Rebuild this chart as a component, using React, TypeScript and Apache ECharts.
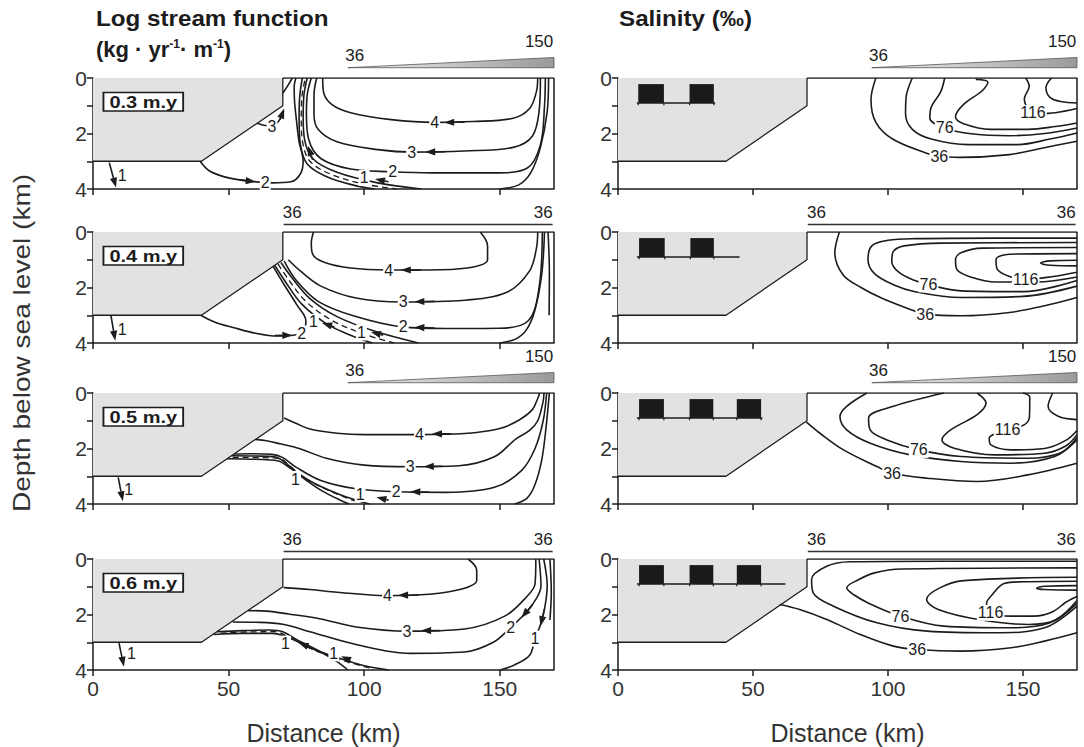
import React, { useEffect, useRef } from "react";
import * as echarts from "echarts";

type Pt = [number, number];
type Lbl = [number, number, string];
type Arr = [number, number, number, number];

const FONT = '"Liberation Sans", Arial, Helvetica, sans-serif';
const INK = "#1c1c1c";

// ---------- axes / layout data ----------
const xTicks = [0, 50, 100, 150];
const depthTicks = [0, 1, 2, 3, 4];
const depthTickLabels = [0, 2, 4];
const ages = ["0.3 m.y", "0.4 m.y", "0.5 m.y", "0.6 m.y"];
const surfaceSalinity: [number, number][] = [[36, 150], [36, 36], [36, 150], [36, 36]];
const shelf: Pt[] = [[0, 0], [70, 0], [70, 1], [40, 3], [0, 3]];
const shelfEdge: Pt[] = [[70, 0], [70, 1], [40, 3], [0, 3]];
const frameEdge: Pt[] = [[70, 0], [170, 0], [170, 4]];

const GRID_LEFT = [93, 618];
const GRID_W = [461, 459];
const GRID_TOP = [78, 232, 393, 559];
const GRID_H = 111;

// ---------- log stream function (left column) ----------
const psi03: Pt[][] = [
  [[84.7, 0], [85, 0.5], [88, 0.95], [95, 1.25], [110, 1.5], [126, 1.6], [140, 1.57], [155, 1.45], [161, 1.1], [163.5, 0.5], [164, 0]],
  [[82.5, 0], [81.5, 0.6], [81.5, 1.3], [83, 1.85], [90, 2.3], [105, 2.58], [118, 2.67], [137, 2.63], [155, 2.5], [162, 2.1], [164.5, 1.2], [165, 0]],
  [[80.5, 0], [79, 0.6], [78.7, 1.3], [79.5, 2.2], [84, 2.9], [95, 3.28], [110, 3.38], [125, 3.42], [148, 3.42], [160, 3.25], [165, 2.4], [166.5, 1], [166.8, 0]],
  [[79, 0], [77.8, 0.6], [77.5, 1.4], [78, 2.2], [81, 2.9], [90, 3.4], [105, 3.78], [121, 4]],
  [[77.2, 0], [76.2, 0.7], [76, 1.5], [76.5, 2.4], [79, 3.1], [86, 3.55], [96, 3.86], [104, 4]],
  [[39.5, 3.0], [43, 3.35], [50, 3.6], [58, 3.72], [66, 3.78], [73, 3.74], [76.5, 3.45], [77.5, 3.0], [76, 2.3], [75, 1.5], [74.3, 0.8], [74.2, 0.3], [74.8, 0]],
  [[150, 4], [157, 3.85], [161.5, 3.4], [165, 2.5], [167.5, 1.2], [168, 0]],
  [[70, 0.55], [72, 0.25], [73.5, 0]],
  [[60.5, 1.63], [63, 1.7], [66, 1.73], [68.5, 1.55], [70.3, 1.2]],
];
const psi03Dashed: Pt[][] = [
  [[78.1, 0.1], [77, 0.7], [76.8, 1.5], [77.3, 2.3], [80, 3.0], [88, 3.48], [100, 3.82], [112, 4]],
];
const psi03Labels: Lbl[] = [
  [126, 1.6, "4"], [117.5, 2.67, "3"], [110.5, 3.38, "2"], [100, 3.6, "1"], [63.5, 3.76, "2"], [66, 1.73, "3"], [10.8, 3.52, "1"],
];
const psi03Arrows: Arr[] = [
  [137, 1.59, 129.5, 1.6], [130, 2.66, 122.5, 2.67], [109, 3.74, 104, 3.64], [81, 2.95, 79.3, 2.45], [54, 3.67, 60, 3.74], [69, 1.5, 70.5, 1.1], [6, 3.05, 8.5, 3.95],
];

const psi04: Pt[][] = [
  [[81.3, 0], [80.5, 0.4], [81, 0.8], [85, 1.08], [95, 1.3], [109, 1.37], [124, 1.37], [138, 1.3], [145.5, 1.0], [145.5, 0.5], [142.8, 0]],
  [[72, 1.0], [77, 1.45], [84, 1.95], [97, 2.38], [114, 2.52], [137, 2.46], [153, 2.15], [161, 1.4], [163.5, 0.6], [164, 0]],
  [[70.5, 1.05], [75, 1.75], [83, 2.5], [96, 3.02], [114, 3.42], [130, 3.48], [150, 3.47], [160.5, 3.2], [164.5, 2.0], [165.7, 0]],
  [[69.3, 1.1], [73, 1.6], [80, 2.4], [90, 3.05], [104, 3.58], [120, 4]],
  [[67, 1.2], [71, 1.8], [77, 2.6], [86, 3.3], [95, 3.72], [103, 4]],
  [[39.7, 3.0], [45, 3.25], [52, 3.45], [60, 3.65], [68, 3.75], [74, 3.72], [78, 3.5], [78.5, 3.2], [75, 2.6], [70.5, 1.9], [66.3, 1.22]],
  [[150, 4], [156, 3.85], [160, 3.5], [163, 2.8], [165.5, 1.5], [166.5, 0]],
  [[167.8, 0], [168.3, 1.5], [168.2, 3]],
];
const psi04Dashed: Pt[][] = [
  [[68.2, 1.15], [72, 1.7], [78.5, 2.5], [88, 3.18], [100, 3.68], [111, 4]],
];
const psi04Labels: Lbl[] = [
  [109, 1.37, "4"], [114.4, 2.51, "3"], [114.4, 3.42, "2"], [81.3, 3.24, "1"], [99, 3.62, "1"], [77, 3.66, "2"], [10.8, 3.52, "1"],
];
const psi04Arrows: Arr[] = [
  [121, 1.37, 113.5, 1.37], [126, 2.5, 118.5, 2.51], [126, 3.46, 118.5, 3.43], [89, 3.42, 84.5, 3.28], [107, 3.72, 102.5, 3.6], [67, 3.73, 73.5, 3.72], [6.6, 3.0, 8.2, 3.92],
];

const psi05: Pt[][] = [
  [[70.5, 0.9], [75, 1.1], [80, 1.3], [90, 1.45], [100, 1.5], [120, 1.5], [137, 1.46], [150, 1.28], [157, 0.98], [162, 0.6], [164, 0.2], [164.7, 0]],
  [[60, 1.67], [64, 1.72], [69, 1.83], [76, 2.0], [86, 2.35], [100, 2.6], [117, 2.66], [135, 2.62], [148, 2.3], [156, 1.65], [161, 1.35], [164, 1.0], [166, 0.3], [166.3, 0]],
  [[52, 2.2], [58, 2.19], [66, 2.21], [70, 2.33], [75, 2.68], [84, 3.15], [97, 3.45], [112, 3.56], [130, 3.58], [148, 3.4], [158, 2.8], [163, 2.0], [166, 1.0], [167.3, 0]],
  [[51.1, 2.26], [60, 2.27], [67, 2.3], [71, 2.52], [76, 2.95], [84, 3.5], [92, 3.9], [94.5, 4]],
  [[49.5, 2.37], [60, 2.39], [68, 2.44], [73, 2.72], [80, 3.17], [90, 3.62], [100, 3.95], [102, 4]],
  [[155.4, 4], [160, 3.8], [163, 3.3], [165.5, 2.4], [167, 1.3], [168.3, 0]],
];
const psi05Dashed: Pt[][] = [
  [[51.5, 2.32], [62, 2.33], [69, 2.37], [72.5, 2.62], [78, 3.06], [88, 3.56], [98, 3.94]],
];
const psi05Labels: Lbl[] = [
  [120.4, 1.49, "4"], [117, 2.65, "3"], [111.8, 3.55, "2"], [74.7, 3.1, "1"], [98.5, 3.64, "1"], [13.2, 3.46, "1"],
];
const psi05Arrows: Arr[] = [
  [132, 1.47, 125, 1.47], [129, 2.64, 122, 2.65], [124, 3.57, 117, 3.56], [109, 3.86, 104.5, 3.76], [9.3, 3.04, 11, 3.9],
];

const psi06: Pt[][] = [
  [[70.3, 1.03], [80, 1.1], [90, 1.2], [100, 1.28], [108.6, 1.32], [124, 1.27], [136, 1.08], [141.5, 0.78], [141.5, 0.4], [138.3, 0]],
  [[57.2, 1.86], [64, 1.88], [72, 1.98], [84, 2.16], [97, 2.45], [116, 2.6], [137, 2.52], [152, 2.05], [160, 1.35], [163, 0.9], [163.3, 0]],
  [[51.5, 2.27], [60, 2.28], [70, 2.35], [80, 2.62], [97, 3.08], [117, 3.4], [137, 3.35], [147.8, 2.99], [154, 2.47], [158, 2.1], [162, 1.65], [165.2, 0.97], [164.5, 0]],
  [[166.2, 0], [167.5, 0.97], [166.5, 1.8], [164.9, 2.4], [163, 2.87], [161, 3.47], [155.4, 3.82], [150.2, 4]],
  [[45.7, 2.62], [55, 2.58], [65, 2.56], [70, 2.62], [75, 2.9], [84, 3.35], [90, 3.7], [94, 4]],
  [[44.5, 2.72], [55, 2.68], [66, 2.68], [72, 2.82], [80, 3.2], [90, 3.55], [100, 3.85], [109, 4]],
  [[168.5, 0], [169, 1.2], [168.5, 2.2]],
];
const psi06Dashed: Pt[][] = [
  [[47, 2.67], [57, 2.63], [67, 2.62], [73, 2.86], [82, 3.3], [92, 3.65], [103, 3.95]],
];
const psi06Labels: Lbl[] = [
  [108.6, 1.32, "4"], [115.8, 2.6, "3"], [154, 2.47, "2"], [163, 2.87, "1"], [71, 3.05, "1"], [88.8, 3.4, "1"], [14.2, 3.4, "1"],
];
const psi06Arrows: Arr[] = [
  [120, 1.3, 112.5, 1.31], [128, 2.58, 121, 2.58], [162, 1.65, 158, 2.12], [166.5, 1.8, 165, 2.42], [80.5, 3.2, 75.8, 3.02], [95, 3.66, 91.5, 3.5], [9.6, 3.03, 11.4, 3.88],
];

// ---------- salinity (right column) ----------
const sal03: Pt[][] = [
  [[95.5, 0], [93.7, 0.78], [95.5, 1.6], [101.7, 2.2], [114, 2.7], [119, 2.82], [126.5, 2.86], [145, 2.76], [157.4, 2.52], [170, 2.28]],
  [[109, 0], [106.7, 0.7], [106.5, 1.3], [109, 1.85], [116, 2.2], [130, 2.4], [148, 2.4], [160, 2.2], [170, 1.98]],
  [[121, 0], [119.5, 0.5], [116, 1.05], [115.5, 1.45], [121, 1.8], [130, 2.0], [145, 2.08], [158, 2.0], [170, 1.8]],
  [[132.5, 0.05], [137, 0.15], [135, 0.45], [128, 0.95], [125, 1.4], [128, 1.65], [138, 1.85], [152, 1.85], [162, 1.75], [170, 1.62]],
  [[151, 0], [152.3, 0.3], [150.5, 0.75], [152, 1.1], [156, 1.28], [162, 1.25], [170, 1.1]],
  [[160.5, 0], [158.5, 0.35], [160, 0.7], [164, 0.85], [170, 0.9]],
];
const sal03Labels: Lbl[] = [[119, 2.82, "36"], [121, 1.8, "76"], [153.7, 1.26, "116"]];

const sal04: Pt[][] = [
  [[82, 0], [80.3, 0.75], [83.4, 1.55], [90, 2.0], [98, 2.4], [108, 2.78], [114, 2.96], [127, 3.02], [145, 2.9], [158, 2.66], [170, 2.36]],
  [[170, 0.22], [140, 0.22], [110, 0.24], [100, 0.3], [94, 0.5], [92.6, 1.0], [95, 1.5], [102, 1.9], [110, 2.15], [127, 2.36], [150, 2.32], [170, 1.95]],
  [[170, 0.38], [120, 0.4], [106, 0.5], [102, 0.7], [101.4, 1.05], [104, 1.45], [110, 1.75], [115, 1.9], [127, 2.12], [150, 2.15], [170, 1.75]],
  [[170, 0.56], [135, 0.58], [127, 0.75], [125, 1.0], [125.5, 1.35], [130, 1.6], [140, 1.8], [155, 1.8], [170, 1.62]],
  [[170, 0.78], [145, 0.8], [140, 1.0], [140.5, 1.35], [145, 1.6], [151, 1.7], [160, 1.62], [170, 1.45]],
  [[170, 1.02], [160, 1.04], [156.5, 1.12], [160, 1.2], [170, 1.22]],
];
const sal04Labels: Lbl[] = [[113.8, 2.96, "36"], [115, 1.89, "76"], [151, 1.71, "116"]];

const sal05: Pt[][] = [
  [[69.8, 1.05], [74.8, 1.45], [83.5, 2.05], [95.9, 2.65], [101.5, 2.89], [114.5, 3.07], [133, 3.19], [151.8, 2.95], [170, 2.53]],
  [[92.2, 0], [84.7, 0.48], [82.2, 0.84], [84.7, 1.33], [93.4, 1.81], [108.3, 2.23], [127, 2.47], [145.6, 2.53], [161.7, 2.29], [170, 1.69]],
  [[120.7, 0], [102, 0.48], [92.8, 0.9], [93.4, 1.33], [99.6, 1.69], [111.4, 2.05], [127, 2.29], [151.8, 2.35], [164, 2.15], [170, 1.6]],
  [[133, 0], [136.3, 0.36], [133, 0.78], [123.2, 1.33], [120, 1.69], [124.5, 1.99], [139.4, 2.23], [158, 2.17], [166, 1.9], [170, 1.5]],
  [[150, 0], [152.5, 0.15], [152.4, 0.84], [150.6, 1.14], [144.3, 1.33], [137.5, 1.63], [138.1, 1.87], [145.6, 2.05], [158, 2.0], [166, 1.7], [170, 1.35]],
  [[161, 0], [159.3, 0.48], [163, 0.84], [170, 0.96]],
];
const sal05Labels: Lbl[] = [[101.5, 2.89, "36"], [111.4, 2.05, "76"], [144.3, 1.33, "116"]];

const sal06: Pt[][] = [
  [[59.9, 1.64], [67.3, 1.82], [77.3, 2.18], [89.7, 2.72], [102, 3.14], [110.8, 3.26], [127, 3.32], [145.6, 3.2], [158, 2.96], [170, 2.66]],
  [[170, 0.08], [120, 0.08], [86, 0.1], [77.3, 0.26], [71.7, 0.74], [72.3, 1.22], [79.8, 1.7], [95.9, 2.3], [114.5, 2.6], [139.4, 2.66], [158, 2.48], [170, 1.7]],
  [[170, 0.32], [105, 0.36], [95, 0.5], [89, 0.75], [84.7, 1.04], [87.2, 1.28], [93, 1.6], [104.6, 2.06], [120.7, 2.42], [145.6, 2.48], [160, 2.3], [170, 1.6]],
  [[170, 0.66], [128, 0.78], [119, 1.05], [114.3, 1.46], [118.6, 1.82], [133.5, 2.18], [152, 2.36], [162, 2.2], [170, 1.5]],
  [[170, 0.8], [150, 0.82], [143, 0.88], [138.5, 1.3], [136.5, 1.6], [137.5, 1.95], [145.6, 2.06], [154, 2.06], [161, 1.9], [166, 1.55], [170, 1.35]],
  [[170, 0.96], [158, 0.98], [155, 1.05], [158, 1.1], [170, 1.12]],
];
const sal06Labels: Lbl[] = [[110.8, 3.26, "36"], [104.6, 2.06, "76"], [138, 1.94, "116"]];

// black basins on the shelf (km)
const basins: Pt[][] = [
  [[7.5, 17], [26.5, 35.5]],
  [[7.8, 17.3], [26.8, 35.5]],
  [[7.8, 17], [26.5, 35.3], [44, 53]],
  [[7.8, 17], [26.5, 35.3], [44, 53]],
];
const basinBaseEnd = [36, 45, 53.5, 62];
const basinTop = 0.22;
const basinBottom = 0.9;

const psiSets = [psi03, psi04, psi05, psi06];
const psiDashed = [psi03Dashed, psi04Dashed, psi05Dashed, psi06Dashed];
const psiLabels = [psi03Labels, psi04Labels, psi05Labels, psi06Labels];
const psiArrows = [psi03Arrows, psi04Arrows, psi05Arrows, psi06Arrows];
const salSets = [sal03, sal04, sal05, sal06];
const salLabels = [sal03Labels, sal04Labels, sal05Labels, sal06Labels];

function lineSeries(g: number, pts: Pt[], extra: any = {}) {
  return {
    type: "line",
    xAxisIndex: g,
    yAxisIndex: g,
    data: pts,
    smooth: extra.smooth ?? 0.35,
    symbol: "none",
    silent: true,
    animation: false,
    z: extra.z ?? 3,
    lineStyle: { color: INK, width: extra.width ?? 1.6, type: extra.type ?? "solid" },
  };
}

function textSeries(g: number, items: Lbl[], o: any) {
  return {
    type: "custom",
    xAxisIndex: g,
    yAxisIndex: g,
    clip: false,
    silent: true,
    z: o.z ?? 8,
    data: items.map((d) => [d[0], d[1]]),
    encode: { x: 0, y: 1 },
    renderItem: (params: any, api: any) => {
      const it = items[params.dataIndex];
      const p = api.coord([it[0], it[1]]);
      return {
        type: "text",
        x: p[0],
        y: p[1],
        scaleX: o.scaleX ?? 1,
        style: {
          text: it[2],
          fontSize: o.size,
          fontFamily: FONT,
          fontWeight: o.weight || "normal",
          fill: INK,
          textAlign: o.align || "center",
          textVerticalAlign: o.valign || "middle",
          align: o.align || "center",
          verticalAlign: o.valign || "middle",
          backgroundColor: o.bg,
          padding: o.pad,
          borderColor: o.border,
          borderWidth: o.borderWidth,
        },
      };
    },
  };
}

function arrowSeries(g: number, arrows: Arr[]) {
  return {
    type: "custom",
    xAxisIndex: g,
    yAxisIndex: g,
    clip: false,
    silent: true,
    z: 9,
    data: arrows.map((a) => [a[2], a[3], a[0], a[1]]),
    encode: { x: [0, 2], y: [1, 3] },
    renderItem: (params: any, api: any) => {
      const a = arrows[params.dataIndex];
      const tail = api.coord([a[0], a[1]]);
      const tip = api.coord([a[2], a[3]]);
      const dx = tip[0] - tail[0];
      const dy = tip[1] - tail[1];
      const len = Math.hypot(dx, dy) || 1;
      const ux = dx / len;
      const uy = dy / len;
      const L = 10;
      const W = 3.6;
      const bx = tip[0] - ux * L;
      const by = tip[1] - uy * L;
      return {
        type: "group",
        children: [
          { type: "line", shape: { x1: tail[0], y1: tail[1], x2: bx, y2: by }, style: { stroke: INK, lineWidth: 1.6 } },
          {
            type: "polygon",
            shape: { points: [[tip[0], tip[1]], [bx - uy * W, by + ux * W], [bx + uy * W, by - ux * W]] },
            style: { fill: INK },
          },
        ],
      };
    },
  };
}

function shelfSeries(g: number) {
  return {
    type: "custom",
    xAxisIndex: g,
    yAxisIndex: g,
    silent: true,
    z: 1,
    data: [[0, 0]],
    renderItem: (_p: any, api: any) => ({
      type: "polygon",
      shape: { points: shelf.map((s) => api.coord(s)) },
      style: { fill: "#e2e2e2" },
    }),
  };
}

function surfaceSeries(g: number, r: number) {
  const [s0, s1] = surfaceSalinity[r];
  const wedge = s1 !== s0;
  return {
    type: "custom",
    xAxisIndex: g,
    yAxisIndex: g,
    clip: false,
    silent: true,
    z: 2,
    data: [[170, -0.3]],
    renderItem: (_p: any, api: any) => {
      if (wedge) {
        const a = api.coord([94, -0.37]);
        const b = api.coord([170, -0.37]);
        const c = api.coord([170, -0.74]);
        return {
          type: "polygon",
          shape: { points: [a, b, c] },
          style: {
            fill: new echarts.graphic.LinearGradient(0, 0, 1, 0, [
              { offset: 0, color: "#f0f0f0" },
              { offset: 1, color: "#9a9a9a" },
            ]),
            stroke: "#555",
            lineWidth: 0.8,
          },
        };
      }
      const a = api.coord([70.3, -0.27]);
      const b = api.coord([169.5, -0.27]);
      return { type: "line", shape: { x1: a[0], y1: a[1], x2: b[0], y2: b[1] }, style: { stroke: "#333", lineWidth: 1.3 } };
    },
  };
}

function basinSeries(g: number, r: number) {
  const list = basins[r];
  return {
    type: "custom",
    xAxisIndex: g,
    yAxisIndex: g,
    silent: true,
    z: 4,
    data: list.map((b) => [b[0], b[1]]),
    encode: { x: [0, 1] },
    renderItem: (params: any, api: any) => {
      const b = list[params.dataIndex];
      const p0 = api.coord([b[0], basinTop]);
      const p1 = api.coord([b[1], basinBottom]);
      const t0 = api.coord([b[0], basinBottom + 0.08]);
      const t1 = api.coord([b[1], basinBottom + 0.08]);
      return {
        type: "group",
        children: [
          { type: "rect", shape: { x: p0[0], y: p0[1], width: p1[0] - p0[0], height: p1[1] - p0[1] }, style: { fill: "#1a1a1a" } },
          { type: "line", shape: { x1: p0[0], y1: p1[1], x2: t0[0], y2: t0[1] }, style: { stroke: INK, lineWidth: 1.2 } },
          { type: "line", shape: { x1: p1[0], y1: p1[1], x2: t1[0], y2: t1[1] }, style: { stroke: INK, lineWidth: 1.2 } },
        ],
      };
    },
  };
}

function buildOption() {
  const grid: any[] = [];
  const xAxis: any[] = [];
  const yAxis: any[] = [];
  const series: any[] = [];

  for (let r = 0; r < 4; r++) {
    for (let c = 0; c < 2; c++) {
      const g = r * 2 + c;
      grid.push({ left: GRID_LEFT[c], top: GRID_TOP[r], width: GRID_W[c], height: GRID_H, containLabel: false });
      xAxis.push({
        gridIndex: g,
        type: "value",
        min: 0,
        max: 170,
        interval: 50,
        position: "bottom",
        axisLine: { onZero: false, lineStyle: { color: INK, width: 1.5 } },
        axisTick: { length: 6, customValues: xTicks, lineStyle: { color: INK, width: 1.5 } },
        axisLabel: {
          show: r === 3,
          customValues: xTicks,
          fontSize: 21,
          fontFamily: FONT,
          color: "#333",
          margin: 8,
        },
        splitLine: { show: false },
        name: r === 3 ? "Distance (km)" : "",
        nameLocation: "middle",
        nameGap: 50,
        nameTextStyle: { fontSize: 25, fontFamily: FONT, color: "#333" },
      });
      yAxis.push({
        gridIndex: g,
        type: "value",
        min: 0,
        max: 4,
        interval: 1,
        inverse: true,
        axisLine: { show: true, onZero: false, lineStyle: { color: INK, width: 1.5 } },
        axisTick: { show: true, length: 6, customValues: depthTicks, lineStyle: { color: INK, width: 1.5 } },
        axisLabel: {
          customValues: depthTickLabels,
          fontSize: 21,
          fontFamily: FONT,
          color: "#333",
          margin: 6,
        },
        splitLine: { show: false },
      });

      series.push(shelfSeries(g));
      series.push(lineSeries(g, shelfEdge, { smooth: false, width: 1.3, z: 2 }));
      series.push(lineSeries(g, frameEdge, { smooth: false, width: 1.5, z: 2 }));
      series.push(surfaceSeries(g, r));
      const [s0, s1] = surfaceSalinity[r];
      const wedge = s0 !== s1;
      series.push(
        textSeries(
          g,
          wedge
            ? [[96.5, -0.82, String(s0)], [164.5, -1.3, String(s1)]]
            : [[73.5, -0.7, String(s0)], [166, -0.7, String(s1)]],
          { size: 17, z: 5 }
        )
      );

      if (c === 0) {
        psiSets[r].forEach((pts) => series.push(lineSeries(g, pts)));
        psiDashed[r].forEach((pts) => series.push(lineSeries(g, pts, { type: [6, 4], width: 1.3 })));
        series.push(textSeries(g, psiLabels[r], { size: 16, bg: "#fff", pad: [0, 1] }));
        series.push(arrowSeries(g, psiArrows[r]));
        series.push(
          textSeries(g, [[4.2, 0.55, ages[r]]], {
            size: 16,
            weight: "bold",
            align: "left",
            valign: "top",
            bg: "#fff",
            pad: [1, 4, 0, 4],
            border: INK,
            borderWidth: 1.5,
            scaleX: 1.25,
          })
        );
      } else {
        salSets[r].forEach((pts) => series.push(lineSeries(g, pts)));
        series.push(textSeries(g, salLabels[r], { size: 16, bg: "#fff", pad: [0, 1] }));
        series.push(basinSeries(g, r));
        series.push(lineSeries(g, [[7, basinBottom], [basinBaseEnd[r], basinBottom]], { smooth: false, width: 1.5, z: 4 }));
      }
    }
  }

  return {
    animation: false,
    backgroundColor: "#fff",
    grid,
    xAxis,
    yAxis,
    series,
    graphic: [
      {
        type: "text",
        x: 96,
        y: 7,
        scaleX: 1.1,
        style: { text: "Log stream function", fontSize: 22, fontWeight: "bold", fontFamily: FONT, fill: INK, textVerticalAlign: "top", verticalAlign: "top" },
      },
      {
        type: "text",
        x: 96,
        y: 38,
        style: {
          text: "(kg · yr{s|-1}· m{s|-1})",
          fontSize: 22,
          fontWeight: "bold",
          fontFamily: FONT,
          fill: INK,
          textVerticalAlign: "top",
          verticalAlign: "top",
          rich: { s: { fontSize: 12, fontWeight: "bold", fontFamily: FONT, fill: INK, verticalAlign: "top" } },
        },
      },
      {
        type: "text",
        x: 619,
        y: 7,
        scaleX: 1.1,
        style: { text: "Salinity (‰)", fontSize: 22, fontWeight: "bold", fontFamily: FONT, fill: INK, textVerticalAlign: "top", verticalAlign: "top" },
      },
      {
        type: "text",
        x: 22,
        y: 343,
        rotation: Math.PI / 2,
        scaleX: 1.22,
        style: {
          text: "Depth below sea level (km)",
          fontSize: 23,
          fontFamily: FONT,
          fill: "#333",
          textAlign: "center",
          textVerticalAlign: "middle",
          align: "center",
          verticalAlign: "middle",
        },
      },
    ],
  };
}

export default function App() {
  const ref = useRef<HTMLDivElement>(null);
  useEffect(() => {
    document.body.style.margin = "0";
    if (!ref.current) return;
    const chart = echarts.init(ref.current, null, { renderer: "svg" });
    chart.setOption(buildOption() as any);
    return () => chart.dispose();
  }, []);
  return <div ref={ref} style={{ width: 1084, height: 747, background: "#fff" }} />;
}
